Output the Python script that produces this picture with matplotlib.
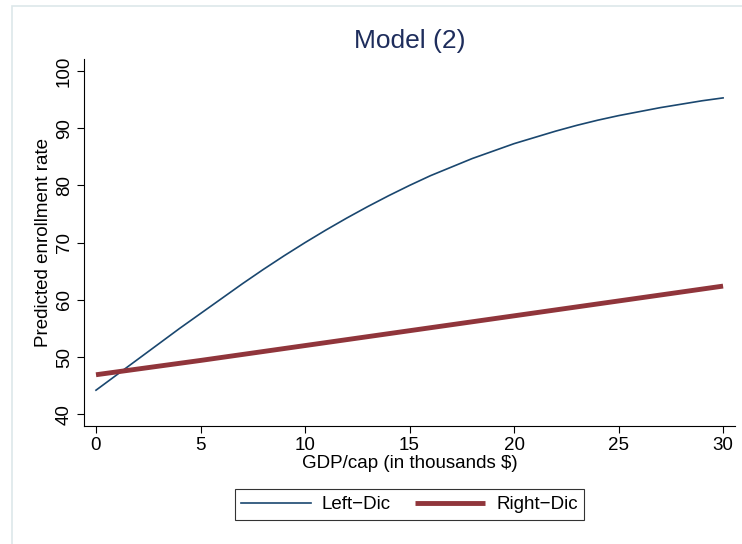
import matplotlib
matplotlib.use("Agg")
import matplotlib.pyplot as plt
from matplotlib.patches import Rectangle

plt.rcParams['font.family'] = ['Liberation Sans', 'DejaVu Sans']

# predicted enrollment by GDP per capita (thousands $)
gdp = list(range(0, 31))
left_dic = [44.2, 46.9, 49.6, 52.3, 55.0, 57.6, 60.2, 62.8, 65.3, 67.7,
            70.0, 72.2, 74.3, 76.3, 78.2, 80.0, 81.7, 83.2, 84.7, 86.0,
            87.3, 88.4, 89.5, 90.5, 91.4, 92.2, 92.9, 93.6, 94.2, 94.8,
            95.3]
gdp_right = [0, 5, 10, 15, 20, 25, 30]
right_dic = [46.9, 49.4, 52.0, 54.6, 57.2, 59.8, 62.4]

xticks = [0, 5, 10, 15, 20, 25, 30]
yticks = [40, 50, 60, 70, 80, 90, 100]

BLUE = '#1a476f'
RED = '#90353b'
FS = 13.5

fig = plt.figure(figsize=(7.42, 5.44), dpi=100)
fig.patches.append(Rectangle((12 / 742, -0.1), 1.2, 1.1 - 6 / 544,
                             transform=fig.transFigure, fill=False,
                             edgecolor='#dde7ea', linewidth=1.2))

ax = fig.add_axes([84 / 742, 1 - 426 / 544, (735 - 84) / 742, (426 - 59) / 544])

ax.plot(gdp, left_dic, color=BLUE, linewidth=1.2, label='Left\u2212Dic')
ax.plot(gdp_right, right_dic, color=RED, linewidth=3.5, label='Right\u2212Dic',
        solid_capstyle='butt')

ax.set_xlim(-0.574, 30.57)
ax.set_ylim(37.94, 102.1)
ax.set_xticks(xticks)
ax.set_yticks(yticks)
ax.tick_params(axis='both', direction='out', length=5, width=0.8,
               labelsize=FS, colors='black', pad=3)
for lbl in ax.get_yticklabels():
    lbl.set_rotation(90)
    lbl.set_va('center')

for side in ('top', 'right'):
    ax.spines[side].set_visible(False)
for side in ('left', 'bottom'):
    ax.spines[side].set_linewidth(0.8)

ax.set_xlabel('GDP/cap (in thousands $)', fontsize=FS, labelpad=1)
ax.set_ylabel('Predicted enrollment rate', fontsize=FS, labelpad=3)
fig.text(409.5 / 742, 1 - 41 / 544, 'Model (2)', fontsize=19,
         color='#1e2d5c', ha='center', va='center')

leg = fig.legend(loc='center', bbox_to_anchor=(409.5 / 742, 1 - 504.5 / 544),
                 ncol=2, fontsize=FS, frameon=True, fancybox=False,
                 edgecolor='black', handlelength=3.7, columnspacing=1.3,
                 handletextpad=0.6, borderpad=0.35)
leg.get_frame().set_linewidth(0.8)

fig.savefig('out.png', dpi=100, facecolor='white')
